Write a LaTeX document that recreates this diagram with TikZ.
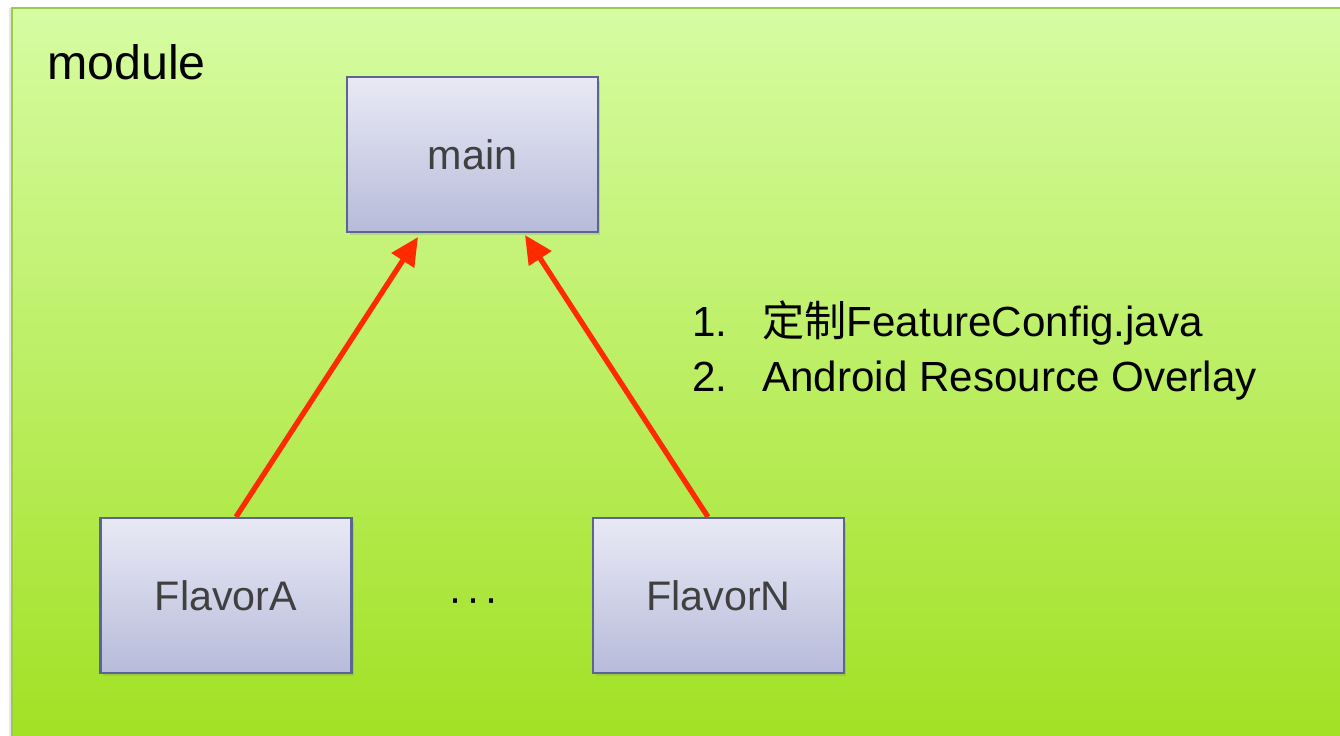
\documentclass[tikz,border=0pt]{standalone}
\usepackage{fontspec}
\setmainfont{Liberation Sans}
\newfontfamily\cjk{Noto Sans CJK SC}
\usetikzlibrary{arrows.meta,shadows}

\definecolor{moduletop}{HTML}{D6FCA2}
\definecolor{modulebottom}{HTML}{A0E020}
\definecolor{moduleline}{HTML}{9CCC44}
\definecolor{boxtop}{HTML}{E9E9F5}
\definecolor{boxbottom}{HTML}{B7BBDA}
\definecolor{boxline}{HTML}{5C6494}
\definecolor{boxtext}{HTML}{404040}
\definecolor{arrowred}{HTML}{FF2A00}

\begin{document}
\begin{tikzpicture}[x=0.02cm, y=-0.02cm,
    flavorbox/.style={rectangle, draw=boxline, line width=1.2pt, top color=boxtop, bottom color=boxbottom,
                      minimum width=5.02cm, minimum height=3.1cm, inner sep=0pt, text=boxtext,
                      font=\fontsize{23.5}{28}\selectfont,
                      drop shadow={shadow xshift=0.05cm, shadow yshift=-0.07cm, opacity=0.25}},
    flowarrow/.style={draw=arrowred, line width=3pt, -{Triangle[length=0.56cm, width=0.52cm]}},
    listitem/.style={anchor=base west, inner sep=0pt, font=\fontsize{24}{29}\selectfont}]
    \useasboundingbox (0, 0) rectangle (1340, 736);
    \fill[white] (0, 0) rectangle (1340, 736);
  %  \draw[help lines, step=50] (0, 0) grid (1340, 736);

    % module frame
    \draw[draw=moduleline, line width=1.2pt, top color=moduletop, bottom color=modulebottom,
          drop shadow={shadow xshift=-0.06cm, shadow yshift=0cm, opacity=0.2}]
          (12, 8) rectangle (1360, 760);
    \node [anchor=base west, inner sep=0pt, font=\fontsize{27.5}{32}\selectfont] (module) at (47, 80) {module};

    \node [flavorbox] (main) at (472.5, 154.5) {main};
    \node [flavorbox] (flavorA) at (226, 595.5) {FlavorA};
    \node [flavorbox] (flavorN) at (718.5, 595.5) {FlavorN};

    \node [anchor=base, inner sep=0pt, font=\fontsize{24}{29}\selectfont] (dots) at (473.5, 613) {·\kern0.08cm·\kern0.08cm·};

    \draw[flowarrow] ([xshift=0.2cm]flavorA.north) -- ([xshift=-1.09cm, yshift=-0.08cm]main.south);
    \draw[flowarrow] ([xshift=-0.21cm]flavorN.north) -- ([xshift=1.05cm, yshift=-0.04cm]main.south);

    \node [listitem] (item1) at (692, 337) {\makebox[1.4cm][l]{1.}{\cjk 定制}FeatureConfig.java};
    \node [listitem] (item2) at (692, 392) {\makebox[1.4cm][l]{2.}Android Resource Overlay};
\end{tikzpicture}
\end{document}
